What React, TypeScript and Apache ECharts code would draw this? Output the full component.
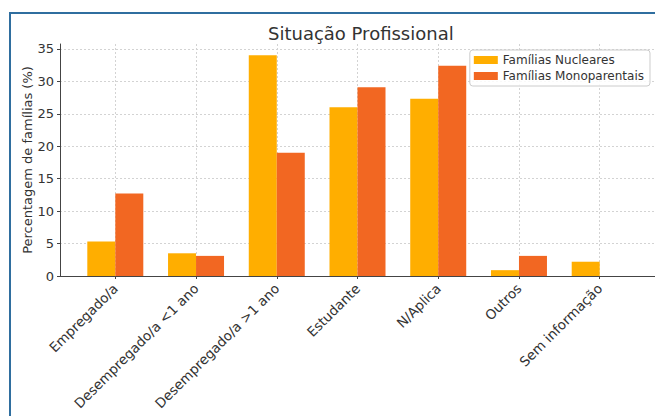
import React, { useEffect, useRef } from "react";
import * as echarts from "echarts";

const categories = [
  "Empregado/a",
  "Desempregado/a <1 ano",
  "Desempregado/a >1 ano",
  "Estudante",
  "N/Aplica",
  "Outros",
  "Sem informação",
];
const nucleares = [5.3, 3.5, 34.0, 26.0, 27.3, 0.9, 2.2];
const monoparentais = [12.7, 3.1, 19.0, 29.1, 32.4, 3.1, 0];
const yTicks = [0, 5, 10, 15, 20, 25, 30, 35];
const seriesNames = ["Famílias Nucleares", "Famílias Monoparentais"];
const titleText = "Situação Profissional";
const yName = "Percentagem de famílias (%)";

const FONT = "'DejaVu Sans', sans-serif";

export default function App() {
  const ref = useRef<HTMLDivElement>(null);

  useEffect(() => {
    if (!ref.current) return;
    const chart = echarts.init(ref.current, undefined, { renderer: "svg" });
    const idx = categories.map((_, i) => i);
    const gridLine = { show: true, lineStyle: { color: "#d3d3d3", type: [2, 2], width: 1 } };
    chart.setOption({
      animation: false,
      backgroundColor: "transparent",
      textStyle: { fontFamily: FONT },
      title: {
        text: titleText,
        left: 263,
        top: 19,
        textStyle: { fontSize: 18, fontWeight: "normal", color: "#333", fontFamily: FONT },
      },
      legend: {
        orient: "vertical",
        right: 5,
        top: 50,
        icon: "rect",
        itemWidth: 24,
        itemHeight: 8,
        itemGap: 4,
        padding: [4, 6, 4, 4],
        borderColor: "#cccccc",
        borderWidth: 1,
        borderRadius: 3,
        backgroundColor: "rgba(255,255,255,0.85)",
        textStyle: { fontSize: 12, color: "#333", fontFamily: FONT },
        data: seriesNames,
      },
      grid: { left: 60, top: 44, right: 0, bottom: 140, outerBoundsMode: "none", containLabel: false },
      xAxis: {
        type: "value",
        min: -0.685,
        max: 6.685,
        axisLine: { show: true, onZero: false, lineStyle: { color: "#444", width: 1 } },
        axisTick: { show: true, customValues: idx, length: 3, lineStyle: { color: "#444" } },
        axisLabel: {
          customValues: idx,
          formatter: (v: number) => categories[Math.round(v)] ?? "",
          rotate: 45,
          fontSize: 13.5,
          color: "#333",
          margin: 10,
          fontFamily: FONT,
        },
        splitLine: gridLine,
      },
      yAxis: {
        type: "value",
        min: 0,
        max: 35.75,
        name: yName,
        nameLocation: "middle",
        nameGap: 26,
        nameMoveOverlap: false,
        nameTextStyle: { fontSize: 13, color: "#333", fontFamily: FONT },
        axisLine: { show: true, onZero: false, lineStyle: { color: "#444", width: 1 } },
        axisTick: { show: true, customValues: yTicks, length: 3, lineStyle: { color: "#444" } },
        axisLabel: { customValues: yTicks, fontSize: 13, color: "#333", margin: 6, fontFamily: FONT },
        splitLine: gridLine,
      },
      series: [
        {
          name: seriesNames[0],
          type: "bar",
          barWidth: 28,
          barGap: "0%",
          itemStyle: { color: "#FFAE00" },
          data: nucleares.map((v, i) => [i, v]),
        },
        {
          name: seriesNames[1],
          type: "bar",
          barWidth: 28,
          barGap: "0%",
          itemStyle: { color: "#F26722" },
          data: monoparentais.map((v, i) => [i, v]),
        },
      ],
    });
    return () => chart.dispose();
  }, []);

  return (
    <div
      style={{
        position: "fixed",
        left: 0,
        top: 0,
        width: 655,
        height: 416,
        overflow: "hidden",
        background: "#fff",
      }}
    >
      <div
        style={{
          position: "absolute",
          left: 9,
          top: 12,
          width: 700,
          height: 500,
          border: "2px solid #2F6E9F",
          boxSizing: "border-box",
        }}
      />
      <div ref={ref} style={{ position: "absolute", left: 0, top: 0, width: 655, height: 416 }} />
    </div>
  );
}
